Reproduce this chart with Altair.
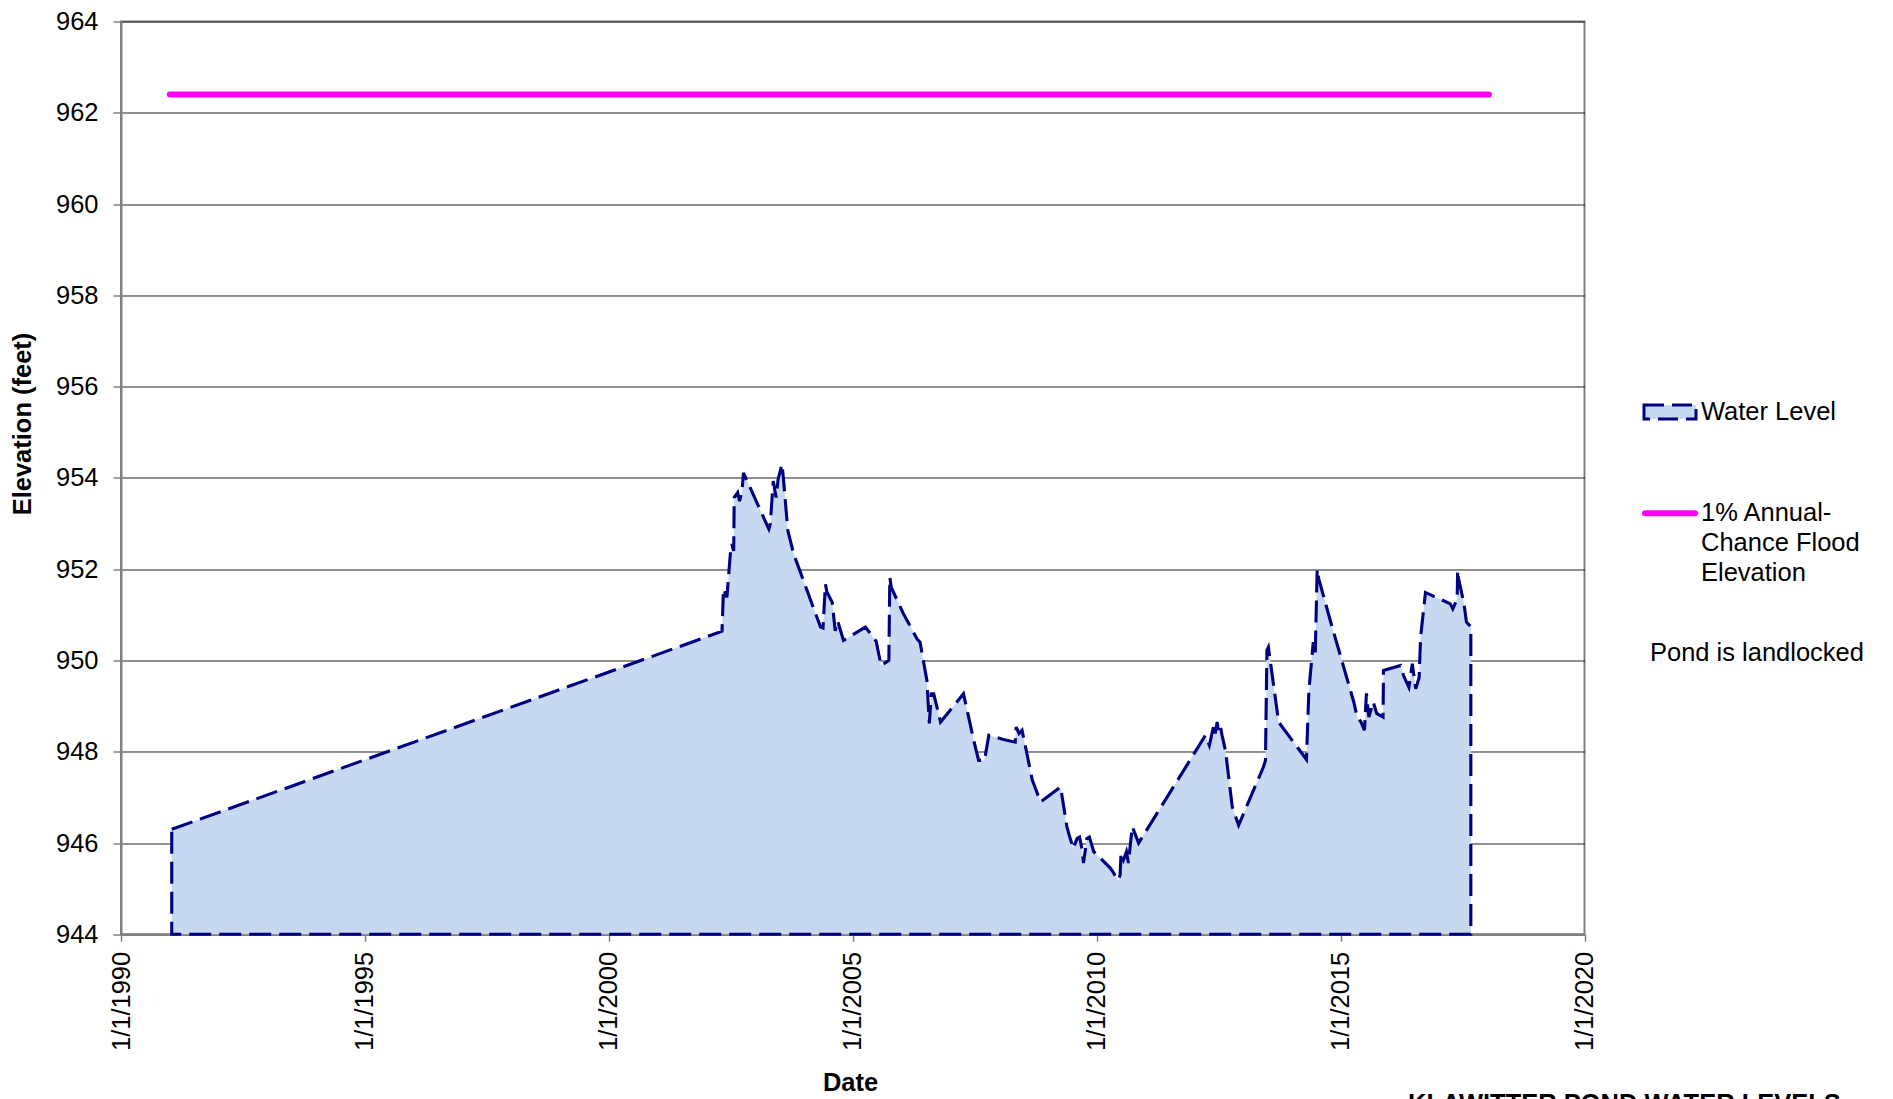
import altair as alt
import pandas as pd

# ---- data (decimal year, elevation in feet) ----
years = [
    1991.04, 2002.32, 2002.35, 2002.42, 2002.49, 2002.52, 2002.56, 2002.57, 2002.64, 2002.68,
    2002.73, 2002.76, 2003.28, 2003.31, 2003.37, 2003.43, 2003.47, 2003.55, 2003.58, 2003.67,
    2003.79, 2004.34, 2004.39, 2004.44, 2004.47, 2004.58, 2004.64, 2004.69, 2004.81, 2005.26,
    2005.37, 2005.48, 2005.58, 2005.74, 2005.76, 2005.79, 2006.04, 2006.32, 2006.38, 2006.52,
    2006.57, 2006.61, 2006.66, 2006.80, 2007.27, 2007.48, 2007.58, 2007.70, 2007.79, 2008.09,
    2008.33, 2008.35, 2008.41, 2008.47, 2008.57, 2008.68, 2008.85, 2009.26, 2009.39, 2009.43,
    2009.52, 2009.60, 2009.65, 2009.70, 2009.73, 2009.80, 2009.85, 2009.94, 2010.28, 2010.35,
    2010.38, 2010.45, 2010.48, 2010.50, 2010.55, 2010.61, 2010.65, 2010.73, 2010.86, 2012.23,
    2012.31, 2012.37, 2012.40, 2012.43, 2012.47, 2012.50, 2012.54, 2012.57, 2012.64, 2012.78,
    2012.91, 2013.42, 2013.46, 2013.49, 2013.52, 2013.73, 2014.30, 2014.35, 2014.44, 2014.48,
    2014.52, 2014.55, 2014.79, 2015.27, 2015.34, 2015.42, 2015.49, 2015.53, 2015.58, 2015.67,
    2015.74, 2015.87, 2015.88, 2016.23, 2016.29, 2016.40, 2016.47, 2016.54, 2016.61, 2016.64,
    2016.74, 2016.88, 2017.25, 2017.30, 2017.39, 2017.40, 2017.42, 2017.53, 2017.58, 2017.67,
]
levels = [
    946.30, 950.64, 951.57, 951.38, 952.33, 952.55, 952.40, 953.57, 953.68, 953.49,
    953.71, 954.11, 952.88, 952.99, 953.93, 953.57, 953.97, 954.30, 953.97, 952.84,
    952.33, 950.73, 950.71, 951.67, 951.50, 951.27, 950.65, 950.87, 950.44, 950.73,
    950.58, 950.42, 949.89, 950.00, 951.82, 951.60, 951.02, 950.47, 950.40, 949.56,
    948.62, 949.27, 949.27, 948.65, 949.27, 948.25, 947.81, 947.81, 948.36, 948.27,
    948.21, 948.54, 948.40, 948.47, 947.96, 947.38, 946.90, 947.23, 946.36, 946.20,
    945.88, 946.10, 946.13, 945.86, 945.56, 946.10, 946.13, 945.81, 945.45, 945.34,
    945.28, 945.19, 945.30, 945.77, 945.63, 945.81, 945.56, 946.36, 946.00, 948.36,
    948.14, 948.43, 948.58, 948.40, 948.65, 948.43, 948.54, 948.36, 948.03, 946.79,
    946.39, 947.67, 947.81, 950.22, 950.29, 948.65, 947.83, 949.34, 950.40, 950.10,
    952.00, 951.80, 950.87, 949.09, 948.76, 948.65, 948.47, 949.28, 948.76, 949.09,
    948.84, 948.76, 949.78, 949.89, 949.67, 949.41, 949.93, 949.38, 949.62, 950.51,
    951.49, 951.42, 951.24, 951.13, 951.35, 951.97, 951.79, 951.24, 950.84, 950.74,
]
flood_years = [1991.0, 2018.04]
flood_levels = [962.4, 962.4]
base_level = 944
x_ticks = [1990, 1995, 2000, 2005, 2010, 2015, 2020]
y_ticks = [944, 946, 948, 950, 952, 954, 956, 958, 960, 962, 964]

water = pd.DataFrame({"year": years, "level": levels})
flood = pd.DataFrame({"year": flood_years, "level": flood_levels})
one = pd.DataFrame({"k": [0]})  # single row for legend / caption marks

FONT = "Liberation Sans"
NAVY = "#000080"
FILL = "#C6D9F0"
MAGENTA = "#FF00FF"
W, H = 1463.5, 912.8

x_scale = alt.Scale(domain=[1990, 2020], nice=False, zero=False)
y_scale = alt.Scale(domain=[944, 964], nice=False, zero=False)

x_axis = alt.Axis(
    values=x_ticks, labelExpr="'1/1/' + datum.value", labelAngle=270,
    labelAlign="right", labelBaseline="middle", labelFontSize=25.5, labelColor="black",
    labelPadding=10, tickSize=7, tickColor="#808080", tickWidth=1.5,
    domainColor="#808080", domainWidth=2, grid=False,
    title="Date", titleFontSize=25.5, titleFontWeight="bold", titleColor="black",
    titleX=729, titleY=148.7, titleBaseline="middle", titleAlign="center",
)
y_axis = alt.Axis(
    values=y_ticks, labelFontSize=25.5, labelColor="black", labelPadding=15,
    tickSize=8, tickColor="#808080", tickWidth=1.5,
    domainColor="#808080", domainWidth=2,
    grid=True, gridColor="#222222", gridWidth=1,
    title="Elevation (feet)", titleFontSize=25.5, titleFontWeight="bold", titleColor="black",
    titleAngle=270, titleX=-99, titleY=402, titleBaseline="middle", titleAlign="center",
)

area = alt.Chart(water).mark_area(
    fill=FILL, stroke=NAVY, strokeWidth=3.1, strokeDash=[22, 8], strokeJoin="miter",
).encode(
    x=alt.X("year:Q", scale=x_scale, axis=x_axis),
    y=alt.Y("level:Q", scale=y_scale, axis=y_axis),
    y2=alt.datum(base_level),
)

flood_line = alt.Chart(flood).mark_line(
    color=MAGENTA, strokeWidth=6, strokeCap="round",
).encode(x=alt.X("year:Q", scale=x_scale), y=alt.Y("level:Q", scale=y_scale))

# ---- legend and captions ----
legend_rect = alt.Chart(one).mark_rect(
    fill=FILL, stroke=NAVY, strokeWidth=3, strokeDash=[20, 8],
).encode(x=alt.value(1523), x2=alt.value(1575), y=alt.value(383.5), y2=alt.value(397.5))

legend_line = alt.Chart(one).mark_rule(
    color=MAGENTA, strokeWidth=6, strokeCap="round",
).encode(x=alt.value(1524), x2=alt.value(1574), y=alt.value(491.8))


def txt(s, x, y, weight="normal", baseline="middle"):
    return alt.Chart(one).mark_text(
        font=FONT, fontSize=25.5, fontWeight=weight, color="black",
        align="left", baseline=baseline,
    ).encode(x=alt.value(x), y=alt.value(y), text=alt.value(s))


texts = [
    txt("Water Level", 1580, 390.5),
    txt("1% Annual-", 1580, 491.8),
    txt("Chance Flood", 1580, 521.8),
    txt("Elevation", 1580, 551.8),
    txt("Pond is landlocked", 1529, 631.8),
    txt("KLAWITTER POND WATER LEVELS", 1287, 1070.2, weight="bold", baseline="top"),
]

chart = alt.layer(area, flood_line, legend_rect, legend_line, *texts).properties(
    width=W, height=H,
    autosize=alt.AutoSizeParams(type="none"),
    padding={"left": 113, "top": 13.5, "right": 300, "bottom": 180},
).configure(font=FONT).configure_view(
    stroke="#808080", strokeWidth=2,
)

chart.save("out.html", embed_options={"renderer": "svg", "actions": False})
